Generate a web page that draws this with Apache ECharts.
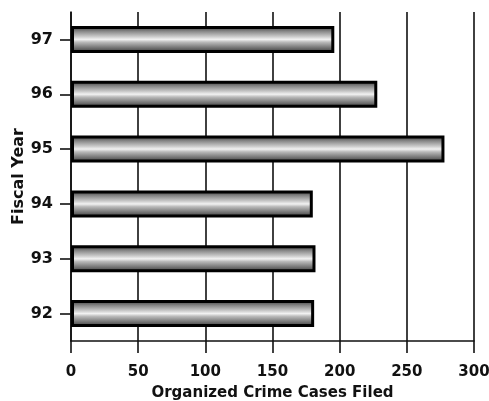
<!DOCTYPE html>
<html><head><meta charset="utf-8">
<script src="https://cdn.jsdelivr.net/npm/echarts@6/dist/echarts.min.js"></script>
<style>html,body{margin:0;padding:0;background:#fff}#c{width:489px;height:401px}</style>
</head><body><div id="c"></div>
<script>
const years = ['92','93','94','95','96','97'];
const casesFiled = [181, 182, 180, 278, 228, 196];
const xTicks = [0, 50, 100, 150, 200, 250, 300];
const xTitle = 'Organized Crime Cases Filed';
const yTitle = 'Fiscal Year';

const chart = echarts.init(document.getElementById('c'), null, {renderer: 'canvas'});
const font = 'DejaVu Sans, Liberation Sans, Arial, sans-serif';
chart.setOption({
  animation: false,
  backgroundColor: '#fff',
  grid: {left: 71, right: 15, top: 12, bottom: 60, containLabel: false, outerBoundsMode: 'none'},
  xAxis: {
    type: 'value', min: xTicks[0], max: xTicks[xTicks.length - 1], interval: 50,
    name: xTitle, nameLocation: 'middle', nameGap: 45,
    nameTextStyle: {fontFamily: font, fontWeight: 'bold', fontSize: 15, color: '#111'},
    axisLine: {show: true, lineStyle: {color: '#111', width: 1.6}},
    axisTick: {show: true, length: 12, lineStyle: {color: '#111', width: 1.6}},
    axisLabel: {margin: 24, fontFamily: font, fontWeight: 'bold', fontSize: 15, color: '#111'},
    splitLine: {show: true, lineStyle: {color: '#111', width: 1.6}}
  },
  yAxis: {
    type: 'category', data: years,
    name: yTitle, nameLocation: 'middle', nameGap: 44, nameRotate: 90, nameMoveOverlap: false,
    nameTextStyle: {fontFamily: font, fontWeight: 'bold', fontSize: 16, color: '#111'},
    axisLine: {show: true, lineStyle: {color: '#111', width: 1.6}},
    axisTick: {show: true, alignWithLabel: true, length: 11, lineStyle: {color: '#111', width: 1.6}},
    axisLabel: {margin: 18, fontFamily: font, fontWeight: 'bold', fontSize: 16, color: '#111'},
    splitLine: {show: false}
  },
  series: [{
    type: 'bar', data: casesFiled, barWidth: 27,
    itemStyle: {
      borderColor: '#000', borderWidth: 3,
      color: {type: 'linear', x: 0, y: 0, x2: 0, y2: 1, colorStops: [
        {offset: 0, color: '#333'}, {offset: 0.2, color: '#888'}, {offset: 0.4, color: '#ccc'},
        {offset: 0.5, color: '#f2f2f2'}, {offset: 0.6, color: '#bbb'}, {offset: 0.8, color: '#777'},
        {offset: 1, color: '#333'}]}
    }
  }]
});
</script></body></html>
